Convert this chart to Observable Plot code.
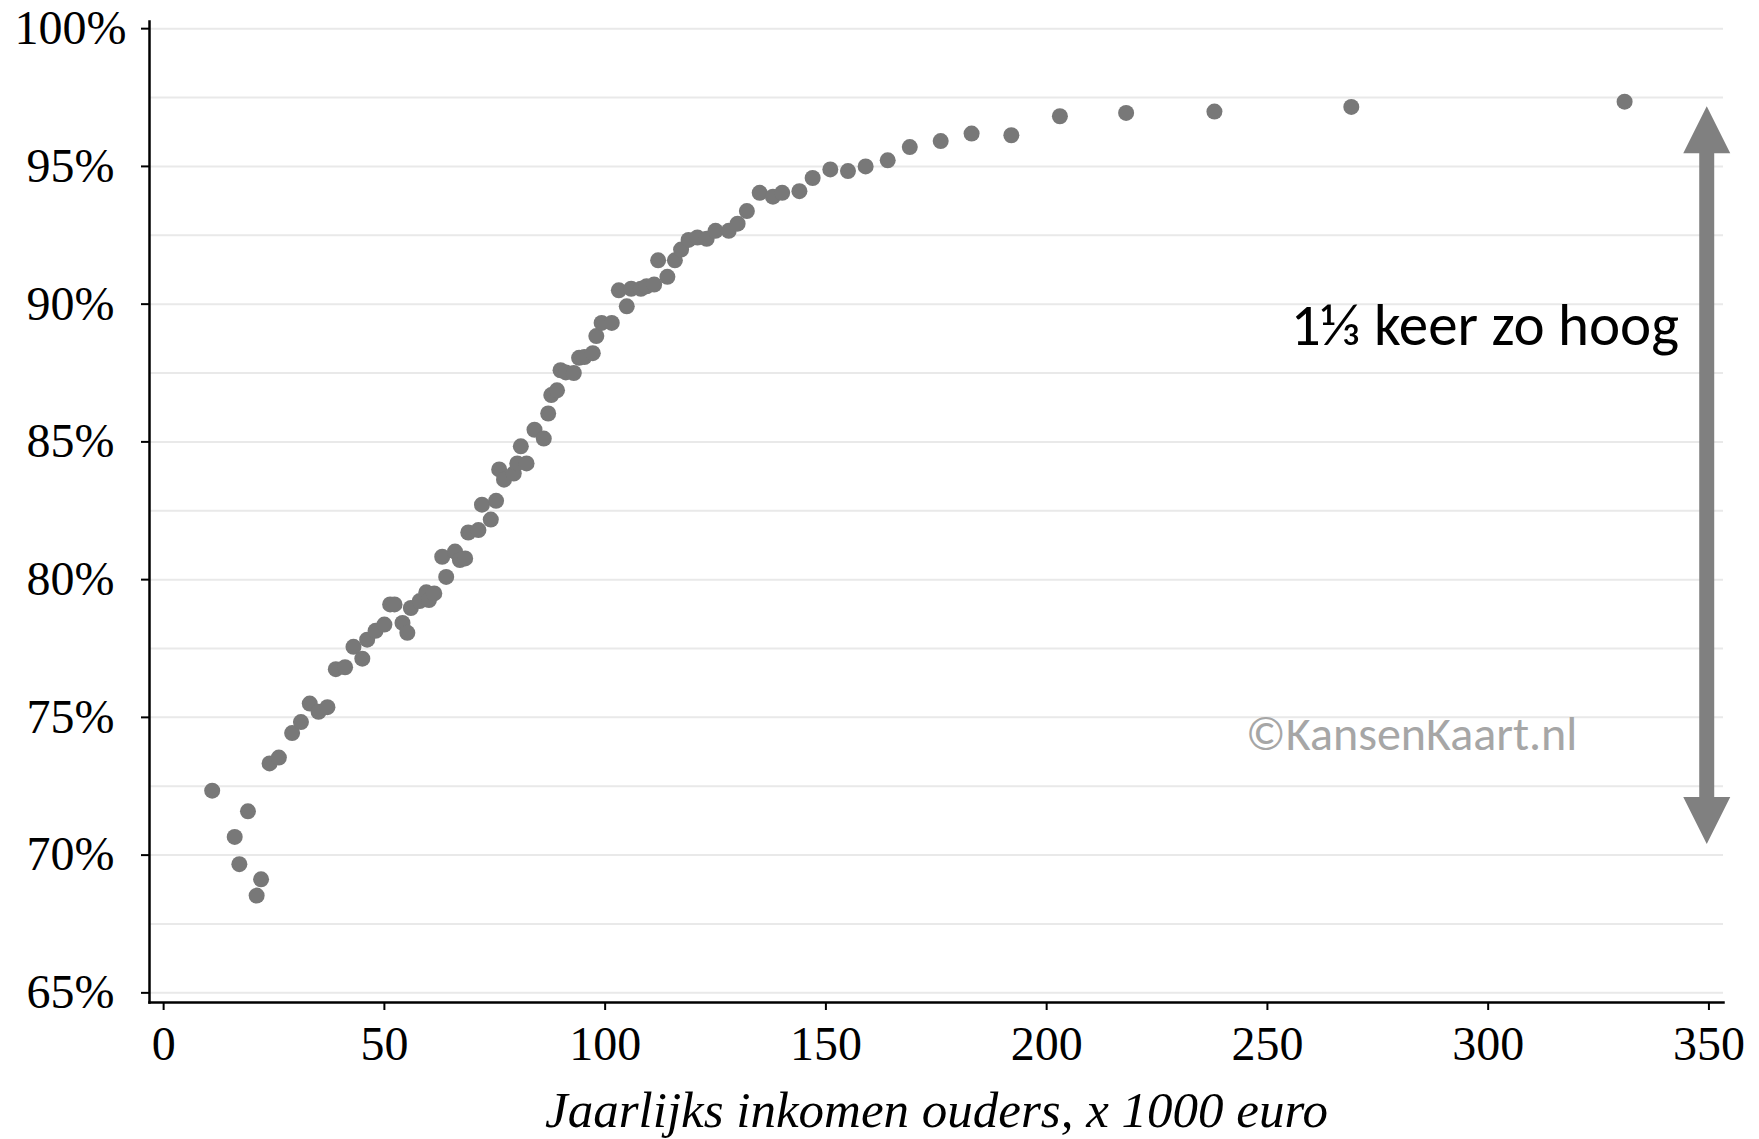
<!DOCTYPE html>
<html>
<head>
<meta charset="utf-8">
<script src="https://cdn.jsdelivr.net/npm/d3@7"></script>
<script src="https://cdn.jsdelivr.net/npm/@observablehq/plot@0.6"></script>
<style>
  html, body { margin: 0; padding: 0; background: #fff; }
  #chart svg { display: block; }
</style>
</head>
<body>
<div id="chart"></div>
<script>
// Parental yearly income (x 1000 euro)
const income = [
  11.0, 16.1, 17.15, 19.1, 21.07, 22.07, 24.0, 26.1, 29.1, 31.1,
  33.1, 35.1, 37.1, 39.0, 41.1, 43.0, 45.0, 46.1, 48.0, 50.0,
  51.3, 52.3, 54.1, 55.2, 56.0, 58.0, 59.5, 60.1, 61.3, 63.1,
  64.0, 66.0, 67.1, 68.3, 69.0, 71.3, 72.1, 74.1, 75.3, 76.0,
  77.1, 79.3, 80.1, 80.9, 82.2, 84.0, 86.1, 87.1, 87.8, 89.1,
  89.9, 91.1, 92.9, 94.1, 95.3, 97.2, 98.0, 99.2, 101.5, 103.1,
  104.9, 105.9, 108.1, 109.4, 111.1, 112.0, 114.1, 115.8, 117.2, 118.9,
  120.9, 123.0, 125.0, 128.0, 130.0, 132.1, 135.0, 138.0, 140.1, 144.0,
  147.0, 151.0, 155.0, 159.0, 164.0, 169.0, 176.0, 183.0, 192.0, 203.0,
  218.0, 238.0, 269.0, 330.9
];
// Share (%)
const share = [
  72.34, 70.66, 69.67, 71.59, 68.53, 69.12, 73.33, 73.54, 74.43, 74.83,
  75.5, 75.2, 75.37, 76.75, 76.82, 77.56, 77.13, 77.82, 78.14, 78.37,
  79.10, 79.10, 78.43, 78.07, 78.97, 79.22, 79.54, 79.26, 79.50, 80.83,
  80.10, 81.02, 80.71, 80.77, 81.71, 81.80, 82.72, 82.18, 82.86, 84.00,
  83.63, 83.85, 84.22, 84.84, 84.22, 85.44, 85.12, 86.03, 86.70, 86.87,
  87.60, 87.52, 87.50, 88.05, 88.08, 88.22, 88.84, 89.32, 89.32, 90.50,
  89.92, 90.56, 90.56, 90.65, 90.71, 91.59, 90.99, 91.59, 91.98, 92.33,
  92.42, 92.37, 92.66, 92.66, 92.92, 93.38, 94.04, 93.90, 94.04, 94.10,
  94.58, 94.89, 94.83, 95.00, 95.22, 95.70, 95.92, 96.19, 96.13, 96.82,
  96.94, 96.99, 97.16, 97.35
];
const xTicks = [0, 50, 100, 150, 200, 250, 300, 350];
const yTicks = [65, 70, 75, 80, 85, 90, 95, 100];
const yGrid = [65, 67.5, 70, 72.5, 75, 77.5, 80, 82.5, 85, 87.5, 90, 92.5, 95, 97.5, 100];
const xLabel = "Jaarlijks inkomen ouders, x 1000 euro";
const annotation = "1⅓ keer zo hoog";
const watermark = "©KansenKaart.nl";
// Arrow annotation (data units)
const arrowX = 349.5, arrowLow = 70.4, arrowHigh = 97.18;
const annotationPos = {x: 343.2, y: 88.51};
const watermarkPos = {x: 245.1, y: 73.81};

const points = income.map((d, i) => ({income: d, share: share[i]}));

const headUp = { draw(ctx) { ctx.moveTo(0, 0); ctx.lineTo(23.5, 47); ctx.lineTo(-23.5, 47); ctx.closePath(); } };
const headDown = { draw(ctx) { ctx.moveTo(0, 0); ctx.lineTo(23.5, -47); ctx.lineTo(-23.5, -47); ctx.closePath(); } };

const serif = "'Liberation Serif', 'Times New Roman', serif";
const sans = "Carlito, Calibri, Lato, sans-serif";

const chart = Plot.plot({
  width: 1759,
  height: 1139,
  marginLeft: 149,
  marginRight: 36,
  marginTop: 21,
  marginBottom: 137,
  style: {fontFamily: serif, background: "#fff", color: "#000"},
  x: {domain: [-3.2, 353.3]},
  y: {domain: [64.65, 100.26]},
  marks: [
    Plot.gridY(yGrid, {stroke: "#e9e9e9", strokeOpacity: 1, strokeWidth: 2}),
    Plot.axisY(yTicks, {
      tickFormat: d => d + "%", tickSize: 8, tickPadding: 71, strokeWidth: 2,
      textAnchor: "middle", fontSize: 48, fontFamily: serif, label: null
    }),
    Plot.axisX(xTicks, {
      tickSize: 8, tickPadding: 15, strokeWidth: 2, fontSize: 48, fontFamily: serif, label: null
    }),
    Plot.text([xLabel], {
      frameAnchor: "bottom", dy: 124, lineAnchor: "bottom", textAnchor: "middle",
      fontSize: 51, fontStyle: "italic", fontFamily: serif, fill: "#000"
    }),
    Plot.frame({anchor: "left", stroke: "#000", strokeWidth: 2.5}),
    Plot.frame({anchor: "bottom", stroke: "#000", strokeWidth: 2.5}),
    Plot.dot(points, {x: "income", y: "share", r: 8, fill: "#787878", stroke: "none"}),
    Plot.ruleX([{x: arrowX, y1: arrowHigh, y2: arrowLow}], {
      x: "x", y1: "y1", y2: "y2", stroke: "#808080", strokeWidth: 15, insetTop: 44, insetBottom: 44
    }),
    Plot.dot([{x: arrowX, y: arrowHigh}], {x: "x", y: "y", symbol: headUp, r: 10, fill: "#808080", stroke: "none"}),
    Plot.dot([{x: arrowX, y: arrowLow}], {x: "x", y: "y", symbol: headDown, r: 10, fill: "#808080", stroke: "none"}),
    Plot.text([annotationPos], {
      x: "x", y: "y", text: () => annotation, textAnchor: "end", lineAnchor: "bottom",
      fontSize: 59, fontFamily: sans, fill: "#000"
    }),
    Plot.text([watermarkPos], {
      x: "x", y: "y", text: () => watermark, textAnchor: "start", lineAnchor: "bottom",
      fontSize: 48, fontFamily: sans, fill: "#a6a6a6"
    })
  ]
});
document.getElementById("chart").append(chart);
</script>
</body>
</html>
